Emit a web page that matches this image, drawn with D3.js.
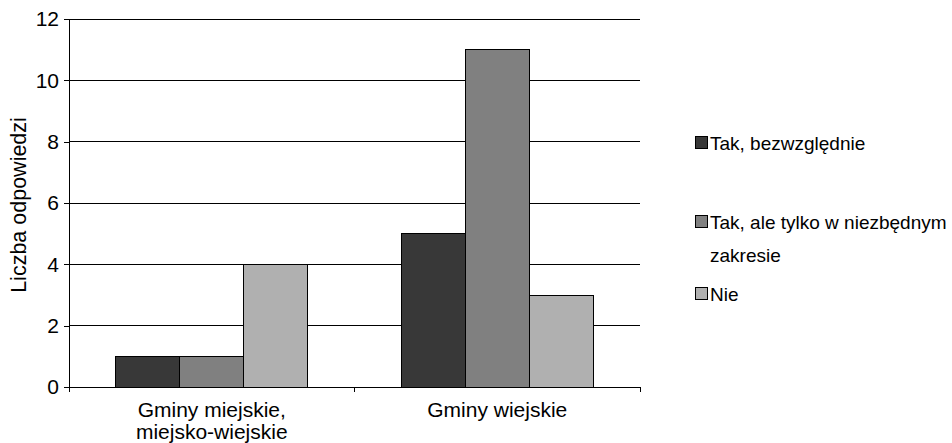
<!DOCTYPE html>
<html><head><meta charset="utf-8">
<script src="https://cdn.jsdelivr.net/npm/d3@7"></script>
<style>body{margin:0;background:#fff}svg{display:block}text{font-family:"Liberation Sans",Arial,sans-serif;fill:#000}</style>
</head><body><svg id="c" width="952" height="443"></svg>
<script>
const categories = [["Gminy miejskie,", "miejsko-wiejskie"], ["Gminy wiejskie"]];
const seriesNames = [["Tak, bezwzględnie"], ["Tak, ale tylko w niezbędnym", "zakresie"], ["Nie"]];
const seriesColors = ["#383838", "#808080", "#b0b0b0"];
const valuesTakBezwzglednie = [1, 5];
const valuesTakNiezbedne = [1, 11];
const valuesNie = [4, 3];
const yTicks = [0, 2, 4, 6, 8, 10, 12];

(function () {
const series = [valuesTakBezwzglednie, valuesTakNiezbedne, valuesNie];
const svg = d3.select("#c");
const pLeft = 69, pRight = 640, pTop = 19, pBottom = 387;

const y = d3.scaleLinear().domain([0, 12]).range([pBottom, pTop]);
const x0 = d3.scaleBand().domain(categories.map((d, i) => i)).range([pLeft, pRight]).paddingInner(0).paddingOuter(0);
const groupW = 192;
const x1 = d3.scaleBand().domain(series.map((d, i) => i)).range([0, groupW]);

// gridlines
svg.append("g").selectAll("line").data(yTicks.filter(t => t > 0)).join("line")
  .attr("x1", pLeft).attr("x2", pRight).attr("y1", d => y(d)).attr("y2", d => y(d))
  .attr("stroke", "#000").attr("stroke-width", 1).attr("shape-rendering", "crispEdges");

// bars
categories.forEach((c, ci) => {
  const gStart = x0(ci) + (x0.bandwidth() - groupW) / 2;
  series.forEach((s, si) => {
    svg.append("rect")
      .attr("x", gStart + x1(si)).attr("y", y(s[ci]))
      .attr("width", x1.bandwidth()).attr("height", y(0) - y(s[ci]))
      .attr("fill", seriesColors[si]).attr("stroke", "#000").attr("stroke-width", 1)
      .attr("shape-rendering", "crispEdges");
  });
});

// y axis
const ya = d3.axisLeft(y).tickValues(yTicks).tickSize(5).tickPadding(5);
const gy = svg.append("g").attr("transform", `translate(${pLeft},0)`).call(ya);
gy.select(".domain").attr("stroke", "#000");
gy.selectAll("line").attr("shape-rendering", "crispEdges");
gy.selectAll("text").style("font-size", "21px").attr("font-family", "Liberation Sans, Arial, sans-serif");

// x axis
const gxa = svg.append("g").attr("transform", `translate(0,${pBottom})`);
gxa.append("line").attr("x1", pLeft).attr("x2", pRight).attr("stroke", "#000").attr("shape-rendering", "crispEdges");
[pLeft, x0(1), pRight].forEach(v => gxa.append("line").attr("x1", v).attr("x2", v).attr("y1", 0).attr("y2", 5).attr("stroke", "#000").attr("shape-rendering", "crispEdges"));

categories.forEach((lines, ci) => {
  const t = svg.append("text").attr("text-anchor", "middle").style("font-size", "21px");
  lines.forEach((l, li) => t.append("tspan").attr("x", x0(ci) + x0.bandwidth() / 2).attr("y", 417 + li * 22).text(l));
});

// y title
svg.append("text").attr("transform", "translate(26,205) rotate(-90)").attr("text-anchor", "middle")
  .style("font-size", "21.5px").text("Liczba odpowiedzi");

// legend
const legY = [143, 222, 294];
seriesNames.forEach((lines, i) => {
  svg.append("rect").attr("x", 695.5).attr("y", legY[i] - 6.5).attr("width", 12).attr("height", 12)
    .attr("fill", seriesColors[i]).attr("stroke", "#000").attr("stroke-width", 1);
  const t = svg.append("text").style("font-size", "19px");
  lines.forEach((l, li) => t.append("tspan").attr("x", 710).attr("y", legY[i] + 7 + li * 33).text(l));
});
})();
</script></body></html>
